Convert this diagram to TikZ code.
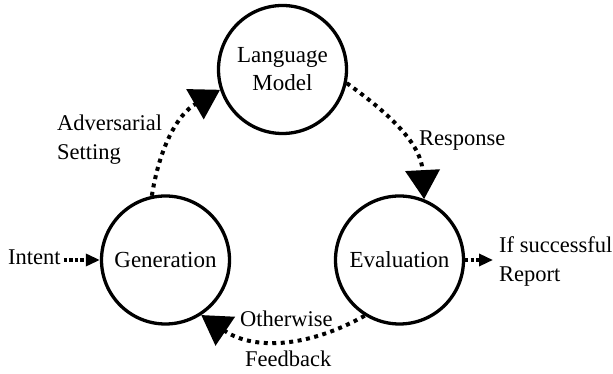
\documentclass[tikz,border=0pt]{standalone}
\usepackage{fontspec}
\setmainfont{Liberation Serif}
\usetikzlibrary{arrows.meta}
\begin{document}
\begin{tikzpicture}[x=1pt,y=1pt,
  state/.style={circle, draw, line width=3.3pt, minimum size=128pt, inner sep=0pt,
    font=\fontsize{23}{29}\selectfont, align=center},
  lbl/.style={inner sep=0pt, font=\fontsize{22.5}{29}\selectfont, align=left},
  flow/.style={line width=4pt, dash pattern=on 4pt off 4.5pt,
    -{Triangle[length=29pt,width=34pt]}},
  side/.style={line width=3.3pt, dash pattern=on 3.3pt off 2.2pt,
    -{Triangle[length=14pt,width=12pt]}}]
\useasboundingbox (0,0) rectangle (613,374);
\node[state] (lm) at (282.5,304.5) {Language\\[-1pt]Model};
\node[state] (gen) at (165.5,114) {Generation};
\node[state] (eval) at (399.5,114) {Evaluation};

\node[lbl, anchor=base west] (intent) at (8,109) {Intent};
\node[lbl, anchor=base west] (adv) at (57,214) {Adversarial\\Setting};
\node[lbl, anchor=base west] (resp) at (419,228) {Response};
\node[lbl, anchor=base west] (rep) at (499,92) {If successful\\Report};
\node[lbl, anchor=base west] (oth) at (240,47) {Otherwise};
\node[lbl, anchor=base west] (fb) at (245,7) {Feedback};

\draw[flow] (gen.102) to[out=81, in=210] (lm.198);
\draw[flow] (lm.-12) to[out=-35.5, in=93] (eval.68);
\draw[flow] (eval.238) to[out=209.5, in=326] (gen.303);
\draw[side, shorten <=3pt] (intent.east |- gen.west) -- (gen.west);
\draw[side, shorten >=6pt] (eval.east) -- (eval.east -| rep.west);
\end{tikzpicture}
\end{document}
